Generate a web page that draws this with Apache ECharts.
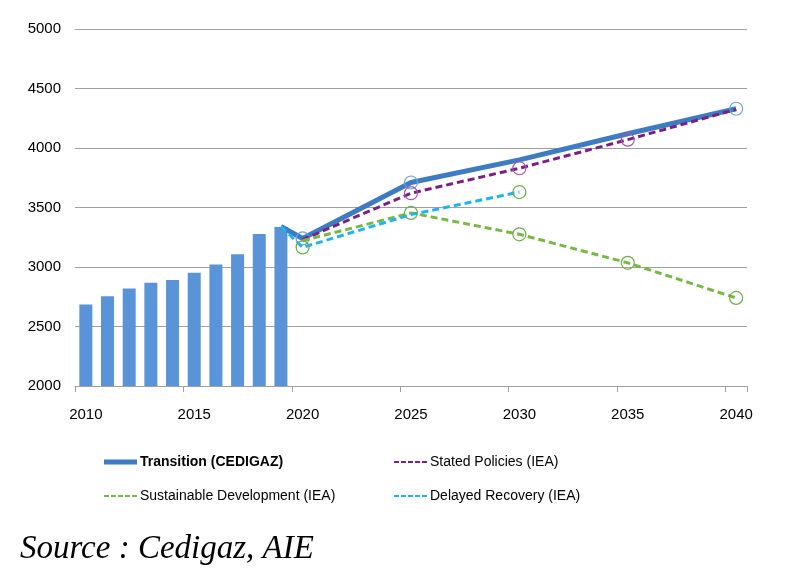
<!DOCTYPE html>
<html>
<head>
<meta charset="utf-8">
<script src="https://cdn.jsdelivr.net/npm/echarts@6/dist/echarts.min.js"></script>
<style>
html,body{margin:0;padding:0;background:#fff;}
#chart{width:786px;height:578px;}
</style>
</head>
<body>
<div id="chart"></div>
<script>
// ---- data ----
var years = ['2010','2011','2012','2013','2014','2015','2016','2017','2018','2019','2020',
             '2021','2022','2023','2024','2025','2026','2027','2028','2029','2030',
             '2031','2032','2033','2034','2035','2036','2037','2038','2039','2040'];
var yTicks = [2000, 2500, 3000, 3500, 4000, 4500, 5000];

var barYears  = ['2010','2011','2012','2013','2014','2015','2016','2017','2018','2019'];
var barValues = [2685, 2755, 2820, 2868, 2890, 2952, 3022, 3107, 3277, 3336];

var transitionYears  = ['2019','2020','2025','2030','2035','2040'];
var transitionValues = [3340, 3240, 3710, 3900, 4120, 4330];
var transitionMarkers = ['2020','2025','2040'];

var statedYears  = ['2020','2025','2030','2035','2040'];
var statedValues = [3230, 3620, 3830, 4070, 4325];
var statedMarkers = ['2025','2030','2035'];

var sdYears  = ['2020','2025','2030','2035','2040'];
var sdValues = [3220, 3455, 3275, 3035, 2740];
var sdMarkers = ['2025','2030','2035','2040'];

var drYears  = ['2019','2020','2025','2030'];
var drValues = [3340, 3165, 3440, 3630];
var drMarkers = ['2020','2030'];

var names = ['Transition (CEDIGAZ)', 'Stated Policies (IEA)', 'Sustainable Development (IEA)', 'Delayed Recovery (IEA)'];

// ---- build ----
function pairs(xs, vs) { return xs.map(function (x, i) { return [x, vs[i]]; }); }
function lineData(xs, vs, markers, markerColor) {
  return xs.map(function (x, i) {
    var on = markers.indexOf(x) >= 0;
    return on ? {
      value: [x, vs[i]], symbol: 'circle', symbolSize: 13,
      itemStyle: { color: 'rgba(255,255,255,0)', borderColor: markerColor, borderWidth: 1.2 }
    } : { value: [x, vs[i]], symbol: 'none' };
  });
}
var dashIcon = 'path://M0 0h5v2H0z M7 0h5v2H7z M14 0h5v2H14z M21 0h5v2H21z M28 0h5v2H28z';

var chart = echarts.init(document.getElementById('chart'), null, { renderer: 'canvas' });
var fontAxis = '"Liberation Sans", Arial, sans-serif';
var fontLeg = '"Liberation Sans", Arial, sans-serif';

function legendAt(name, left, top, icon, bold) {
  return {
    data: [{ name: name, icon: icon }],
    left: left, top: top, padding: 0, itemWidth: 33, itemHeight: icon === 'rect' ? 5 : 2.5,
    itemGap: 0, selectedMode: false,
    textStyle: { fontFamily: fontLeg, fontSize: 14, color: '#000', fontWeight: bold ? 'bold' : 'normal', padding: [0, 0, 0, -2] }
  };
}

var option = {
  animation: false,
  backgroundColor: '#fff',
  title: {
    text: 'Source : Cedigaz, AIE',
    left: 15, top: 528,
    textStyle: { fontFamily: '"Liberation Serif", "Times New Roman", serif', fontStyle: 'italic', fontWeight: 'normal', fontSize: 33, color: '#000' }
  },
  legend: [
    legendAt(names[0], 104, 455, 'rect', true),
    legendAt(names[1], 394, 455, dashIcon, false),
    legendAt(names[2], 104, 489, dashIcon, false),
    legendAt(names[3], 394, 489, dashIcon, false)
  ],
  grid: { left: 75, right: 39, top: 29, bottom: 192, containLabel: false },
  xAxis: {
    type: 'category',
    data: years,
    boundaryGap: true,
    axisLine: { show: true, lineStyle: { color: '#a0a0a0', width: 1 } },
    axisTick: { show: true, interval: 4, length: 6, alignWithLabel: false, lineStyle: { color: '#a0a0a0' } },
    axisLabel: { interval: 4, margin: 21, fontFamily: fontAxis, fontSize: 15, color: '#000' },
    splitLine: { show: false }
  },
  yAxis: {
    type: 'value',
    min: yTicks[0], max: yTicks[yTicks.length - 1], interval: 500,
    axisLine: { show: false },
    axisTick: { show: false },
    axisLabel: { margin: 14, fontFamily: fontAxis, fontSize: 15, color: '#000', formatter: function (v) { return String(v); } },
    splitLine: { show: true, lineStyle: { color: '#a0a0a0', width: 1 } }
  },
  series: [
    {
      name: 'Historique', type: 'bar', data: pairs(barYears, barValues),
      barWidth: 13, itemStyle: { color: '#5994d8' }, z: 1
    },
    {
      name: names[0], type: 'line', data: lineData(transitionYears, transitionValues, transitionMarkers, '#6aa2da'),
      symbol: 'circle', showSymbol: true, showAllSymbol: true,
      itemStyle: { color: '#3d7cc2' },
      lineStyle: { color: '#3d7cc2', width: 5 }, z: 3
    },
    {
      name: names[1], type: 'line', data: lineData(statedYears, statedValues, statedMarkers, '#a457ac'),
      symbol: 'circle', showSymbol: true, showAllSymbol: true,
      itemStyle: { color: '#7e1d86' },
      lineStyle: { color: '#7e1d86', width: 3, type: [7, 4] }, z: 4
    },
    {
      name: names[2], type: 'line', data: lineData(sdYears, sdValues, sdMarkers, '#6eae4a'),
      symbol: 'circle', showSymbol: true, showAllSymbol: true,
      itemStyle: { color: '#78b943' },
      lineStyle: { color: '#78b943', width: 3, type: [7, 4] }, z: 4
    },
    {
      name: names[3], type: 'line', data: lineData(drYears, drValues, drMarkers, '#6eae4a'),
      symbol: 'circle', showSymbol: true, showAllSymbol: true,
      itemStyle: { color: '#1db5ef' },
      lineStyle: { color: '#1db5ef', width: 3, type: [7, 4] }, z: 4
    }
  ]
};
chart.setOption(option);
</script>
</body>
</html>
